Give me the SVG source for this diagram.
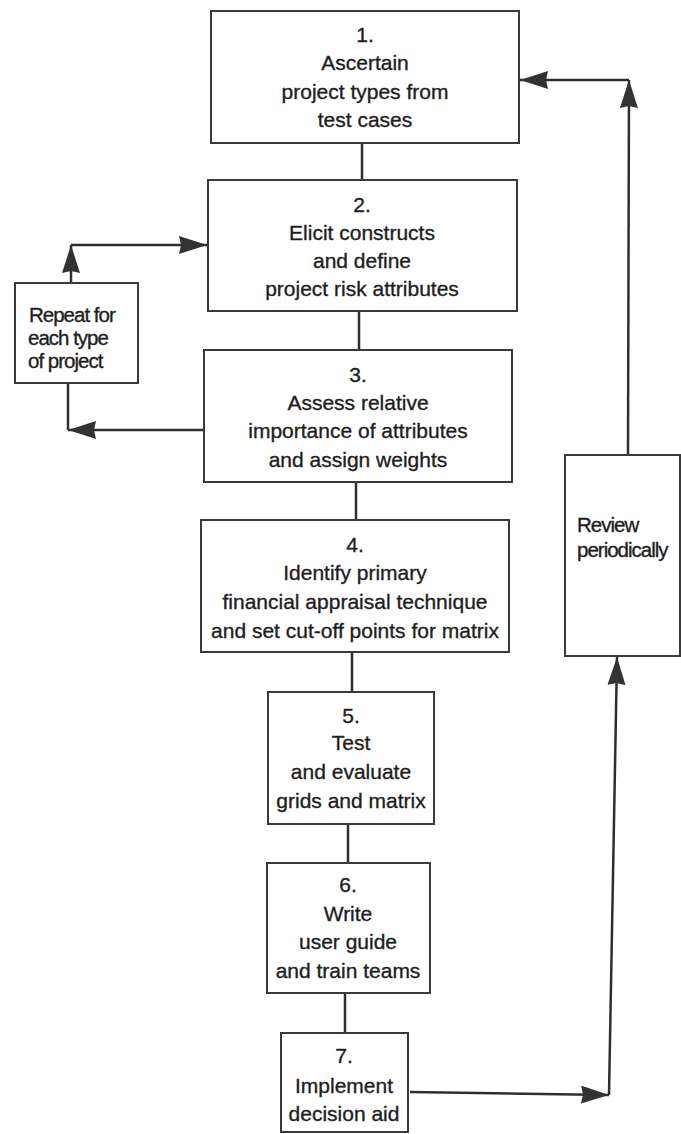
<svg xmlns="http://www.w3.org/2000/svg" width="681" height="1134" viewBox="0 0 681 1134">
<style>
.box{fill:#fff;stroke:#3a3a3a;stroke-width:2}
.t{font-family:"Liberation Sans",Arial,sans-serif;font-size:21px;fill:#1e1e1e;stroke:#1e1e1e;stroke-width:0.35;text-anchor:middle}
.s{font-family:"Liberation Sans",Arial,sans-serif;font-size:20.5px;fill:#1e1e1e;stroke:#1e1e1e;stroke-width:0.35;letter-spacing:-1px}
.ln{fill:none;stroke:#2e2e2e;stroke-width:2.5}
</style>
<defs>
<marker id="ah" markerUnits="userSpaceOnUse" markerWidth="30" markerHeight="20" refX="28" refY="9" orient="auto">
<path d="M0,0 L28,9 L0,18 L2,9 z" fill="#333"/>
</marker>
</defs>
<rect width="681" height="1134" fill="#fff"/>
<g id="connectors">
<line class="ln" x1="362" y1="143" x2="362" y2="180"/>
<line class="ln" x1="359" y1="311" x2="359" y2="350"/>
<line class="ln" x1="356" y1="482" x2="356" y2="520"/>
<line class="ln" x1="352" y1="652" x2="352" y2="692"/>
<line class="ln" x1="348" y1="824" x2="348" y2="863"/>
<line class="ln" x1="345" y1="993" x2="345" y2="1033"/>
<line class="ln" x1="71" y1="283" x2="71" y2="245" marker-end="url(#ah)"/>
<line class="ln" x1="71" y1="245" x2="207" y2="245" marker-end="url(#ah)"/>
<polyline class="ln" points="68,383 68,430"/>
<line class="ln" x1="204" y1="430" x2="68" y2="430" marker-end="url(#ah)"/>
<line class="ln" x1="628" y1="455" x2="629" y2="80" marker-end="url(#ah)"/>
<line class="ln" x1="629" y1="80" x2="520" y2="80" marker-end="url(#ah)"/>
<line class="ln" x1="410" y1="1092" x2="609" y2="1095" marker-end="url(#ah)"/>
<line class="ln" x1="609" y1="1095" x2="617" y2="657" marker-end="url(#ah)"/>
</g>
<g id="n1">
<rect class="box" x="211" y="11" width="308" height="132"/>
<text class="t" x="365" y="42">1.</text>
<text class="t" x="365" y="70">Ascertain</text>
<text class="t" x="365" y="99">project types from</text>
<text class="t" x="365" y="127">test cases</text>
</g>
<g id="n2">
<rect class="box" x="208" y="180" width="309" height="131"/>
<text class="t" x="362" y="212">2.</text>
<text class="t" x="362" y="240">Elicit constructs</text>
<text class="t" x="362" y="268">and define</text>
<text class="t" x="362" y="296">project risk attributes</text>
</g>
<g id="n3">
<rect class="box" x="204" y="350" width="308" height="132"/>
<text class="t" x="358" y="382">3.</text>
<text class="t" x="358" y="410">Assess relative</text>
<text class="t" x="358" y="438">importance of attributes</text>
<text class="t" x="358" y="467">and assign weights</text>
</g>
<g id="n4">
<rect class="box" x="201" y="520" width="308" height="132"/>
<text class="t" x="355" y="552">4.</text>
<text class="t" x="355" y="580">Identify primary</text>
<text class="t" x="355" y="609">financial appraisal technique</text>
<text class="t" x="355" y="638">and set cut-off points for matrix</text>
</g>
<g id="n5">
<rect class="box" x="268" y="692" width="166" height="132"/>
<text class="t" x="351" y="723">5.</text>
<text class="t" x="351" y="750">Test</text>
<text class="t" x="351" y="779">and evaluate</text>
<text class="t" x="351" y="808">grids and matrix</text>
</g>
<g id="n6">
<rect class="box" x="267" y="863" width="163" height="130"/>
<text class="t" x="348" y="892">6.</text>
<text class="t" x="348" y="921">Write</text>
<text class="t" x="348" y="949">user guide</text>
<text class="t" x="348" y="978">and train teams</text>
</g>
<g id="n7">
<rect class="box" x="281" y="1033" width="127" height="99"/>
<text class="t" x="344" y="1063">7.</text>
<text class="t" x="344" y="1093">Implement</text>
<text class="t" x="344" y="1121">decision aid</text>
</g>
<g id="repeat">
<rect class="box" x="15" y="283" width="123" height="100"/>
<text class="s" x="29" y="322">Repeat for</text>
<text class="s" x="28" y="345">each type</text>
<text class="s" x="28" y="368">of project</text>
</g>
<g id="review">
<rect class="box" x="565" y="455" width="115" height="201"/>
<text class="s" x="577" y="532">Review</text>
<text class="s" x="577" y="557">periodically</text>
</g>
</svg>
